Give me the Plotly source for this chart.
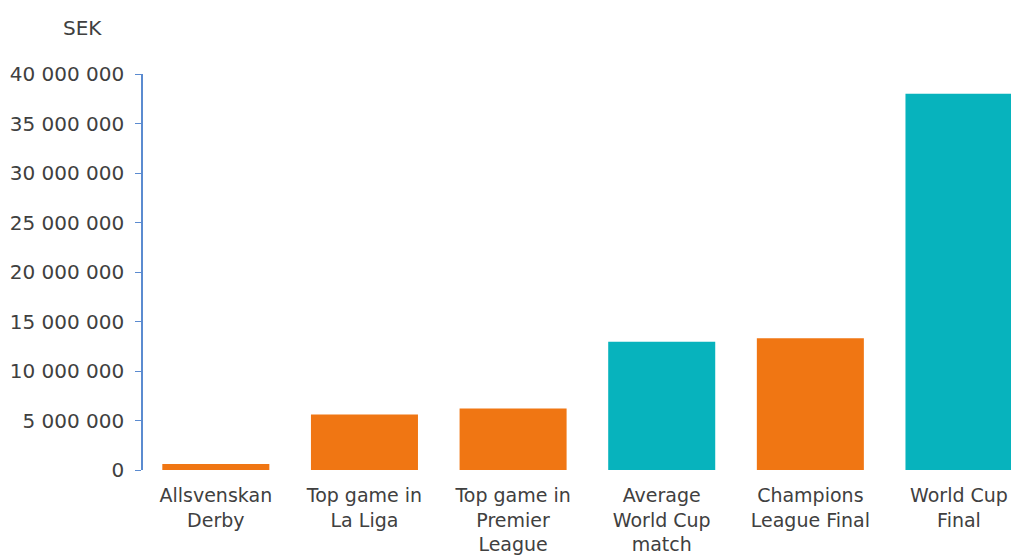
import plotly.graph_objects as go

categories = ["Allsvenskan<br>Derby", "Top game in<br>La Liga", "Top game in<br>Premier<br>League",
              "Average<br>World Cup<br>match", "Champions<br>League Final", "World Cup<br>Final"]
values = [600000, 5600000, 6200000, 12950000, 13300000, 38000000]
colors = ["#F07613", "#F07613", "#F07613", "#07B3BD", "#F07613", "#07B3BD"]
tick_vals = [0, 5000000, 10000000, 15000000, 20000000, 25000000, 30000000, 35000000, 40000000]
tick_text = ["0", "5 000 000", "10 000 000", "15 000 000", "20 000 000", "25 000 000",
             "30 000 000", "35 000 000", "40 000 000"]

fig = go.Figure(go.Bar(x=categories, y=values, marker=dict(color=colors, line=dict(width=0)),
                       width=0.72))

fig.update_layout(
    width=1003, height=548,
    margin=dict(l=135, r=0, t=66, b=86),
    paper_bgcolor="white", plot_bgcolor="white",
    font=dict(family="DejaVu Sans", size=19, color="#404040"),
    showlegend=False,
    xaxis=dict(range=[-0.49, 5.35], showline=False, ticks="", tickfont=dict(size=19),
               automargin=False, ticklabelstandoff=12),
    yaxis=dict(range=[0, 40000000], tickvals=tick_vals, ticktext=tick_text,
               showgrid=False, showline=True, linecolor="#5B8BD0", linewidth=1.5,
               ticks="outside", ticklen=6, tickcolor="#5B8BD0", zeroline=False,
               tickfont=dict(size=20), automargin=False, ticklabelstandoff=7),
    annotations=[dict(text="SEK", showarrow=False, xref="paper", yref="paper",
                      x=(61 - 143) / 868, y=(470 - 28) / 396, xanchor="left", yanchor="middle",
                      font=dict(size=20))],
)
fig.write_html("out.html")
